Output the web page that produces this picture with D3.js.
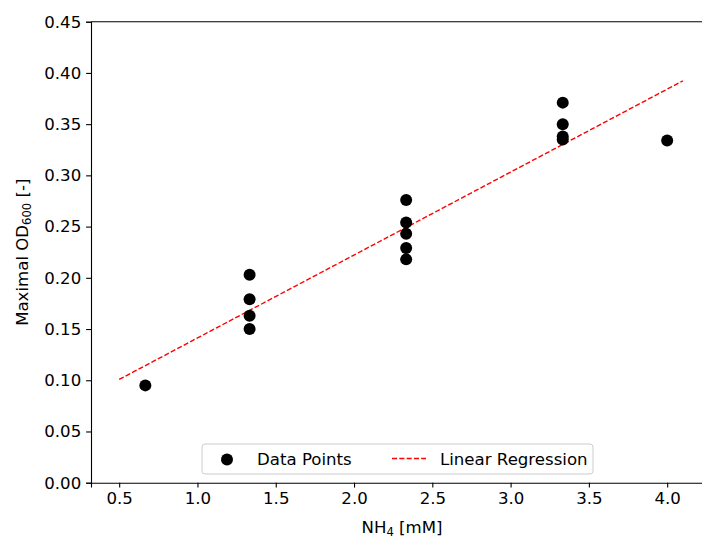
<!DOCTYPE html>
<html>
<head>
<meta charset="utf-8">
<script src="https://cdn.jsdelivr.net/npm/d3@7"></script>
<style>
  body { margin: 0; background: #fff; }
  svg { display: block; overflow: hidden; }
  text { font-family: "DejaVu Sans", sans-serif; fill: #000; }
</style>
</head>
<body>
<script>
// data
var nh4 = [0.667, 1.333, 1.333, 1.333, 1.333, 2.333, 2.333, 2.333, 2.333, 2.333, 3.333, 3.333, 3.333, 3.333, 4.0];
var od600 = [0.095, 0.203, 0.179, 0.163, 0.150, 0.276, 0.254, 0.243, 0.229, 0.218, 0.371, 0.350, 0.338, 0.335, 0.334];
var fitRange = [0.5, 4.1];
var xTicks = [0.5, 1.0, 1.5, 2.0, 2.5, 3.0, 3.5, 4.0];
var yTicks = [0, 0.05, 0.10, 0.15, 0.20, 0.25, 0.30, 0.35, 0.40, 0.45];

var w = 702, h = 537;
var mLeft = 91, mTop = 21.7, plotW = 620, plotH = 461;
var fs = "16.6px", subFs = "11.6px";

var svg = d3.select("body").append("svg")
    .attr("width", w)
    .attr("height", h);

var x = d3.scaleLinear().domain([0.32, 4.28]).range([mLeft, mLeft + plotW]);
var y = d3.scaleLinear().domain([0, 0.45]).range([mTop + plotH, mTop]);

// least squares fit
var mx = d3.mean(nh4), my = d3.mean(od600);
var sxy = d3.sum(nh4, function(d, i){ return (d - mx) * (od600[i] - my); });
var sxx = d3.sum(nh4, function(d){ return (d - mx) * (d - mx); });
var slope = sxy / sxx, intercept = my - slope * mx;

// axes
svg.append("g")
    .attr("transform", "translate(0," + (mTop + plotH) + ")")
    .call(d3.axisBottom(x).tickValues(xTicks).tickFormat(d3.format(".1f")).tickSizeOuter(0).tickSize(4.9).tickPadding(4.9));
svg.append("g")
    .attr("transform", "translate(" + mLeft + ",0)")
    .call(d3.axisLeft(y).tickValues(yTicks).tickFormat(d3.format(".2f")).tickSizeOuter(0).tickSize(4.9).tickPadding(4.9));

svg.selectAll(".tick text").style("font-size", fs).style("font-family", "DejaVu Sans");
svg.selectAll(".domain, .tick line").attr("stroke", "#000").attr("stroke-width", 1.1);

// top and right spines
svg.append("line").attr("x1", mLeft).attr("x2", mLeft + plotW).attr("y1", mTop).attr("y2", mTop)
    .attr("stroke", "#000").attr("stroke-width", 1.1);
svg.append("line").attr("x1", mLeft + plotW).attr("x2", mLeft + plotW).attr("y1", mTop).attr("y2", mTop + plotH)
    .attr("stroke", "#000").attr("stroke-width", 1.1);

// regression line
svg.append("line")
    .attr("x1", x(fitRange[0])).attr("y1", y(intercept + slope * fitRange[0]))
    .attr("x2", x(fitRange[1])).attr("y2", y(intercept + slope * fitRange[1]))
    .attr("stroke", "#ff0000").attr("stroke-width", 1.4)
    .attr("stroke-dasharray", "5.1,2.2");

// points
svg.selectAll(".pt")
    .data(nh4)
    .enter()
    .append("circle")
    .attr("class", "pt")
    .attr("cx", function(d){ return x(d); })
    .attr("cy", function(d, i){ return y(od600[i]); })
    .attr("r", 6)
    .style("fill", "#000");

// axis labels
var xl = svg.append("text")
    .attr("x", mLeft + plotW / 2 + 1).attr("y", 533)
    .attr("text-anchor", "middle")
    .style("font-size", fs);
xl.append("tspan").text("NH");
xl.append("tspan").attr("dy", 2.5).style("font-size", subFs).text("4");
xl.append("tspan").attr("dy", -2.5).text(" [mM]");

var yl = svg.append("text")
    .attr("transform", "translate(28," + (mTop + plotH / 2) + ") rotate(-90)")
    .attr("text-anchor", "middle")
    .style("font-size", fs);
yl.append("tspan").text("Maximal OD");
yl.append("tspan").attr("dy", 3).style("font-size", subFs).text("600");
yl.append("tspan").attr("dy", -3).text(" [-]");

// legend
var legend = svg.append("g");
legend.append("rect")
    .attr("x", 202).attr("y", 444).attr("width", 391).attr("height", 30)
    .attr("rx", 3)
    .style("fill", "#fff").style("fill-opacity", 0.8)
    .style("stroke", "#cccccc").style("stroke-width", 1);
legend.append("circle").attr("cx", 227).attr("cy", 459.5).attr("r", 6).style("fill", "#000");
legend.append("text").attr("x", 257).attr("y", 465).style("font-size", fs).text("Data Points");
legend.append("line").attr("x1", 392).attr("x2", 426).attr("y1", 458.5).attr("y2", 458.5)
    .attr("stroke", "#ff0000").attr("stroke-width", 1.4).attr("stroke-dasharray", "5.1,2.2");
legend.append("text").attr("x", 440).attr("y", 465).style("font-size", fs).text("Linear Regression");
</script>
</body>
</html>
